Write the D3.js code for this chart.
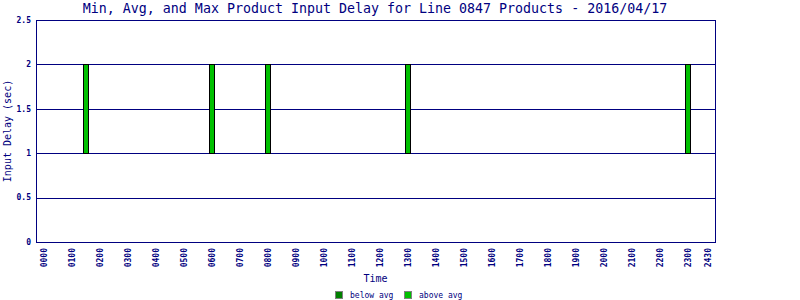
<!DOCTYPE html>
<meta charset="utf-8">
<script src="https://d3js.org/d3.v7.min.js"></script>
<style>
  body { margin: 0; background: #fff; }
  text { font-family: "DejaVu Sans Mono", monospace; fill: #000080; }
</style>
<svg id="chart" width="800" height="300"></svg>
<script>

    // data
    var barHours = [1.5, 6, 8, 13, 23];
    var barMin = [1, 1, 1, 1, 1];
    var barMax = [2, 2, 2, 2, 2];

    var yTicks = [0, 0.5, 1, 1.5, 2, 2.5];
    var xTickHours = [0, 1, 2, 3, 4, 5, 6, 7, 8, 9, 10, 11, 12, 13, 14, 15, 16, 17, 18, 19, 20, 21, 22, 23, 24.5];
    var xTickLabels = ["0000", "0100", "0200", "0300", "0400", "0500", "0600", "0700", "0800", "0900",
        "1000", "1100", "1200", "1300", "1400", "1500", "1600", "1700", "1800", "1900",
        "2000", "2100", "2200", "2300", "2430"];

    var legendLabels = ["below avg", "above avg"];
    var legendColors = ["#008000", "#00c000"];

    var navy = "#000080";

    // plot box (window.top is reserved, so use other names)
    var svg = d3.select("svg"),
        plotLeft = 36, plotRight = 715, plotTop = 20, plotBottom = 242;

    var x = d3.scaleLinear().domain([-0.28, 23.97]).range([plotLeft, plotRight]);
    var y = d3.scaleLinear().domain([0, 2.5]).range([plotBottom, plotTop]);

    // title
    svg.append("text")
        .attr("x", 375)
        .attr("y", 13)
        .attr("text-anchor", "middle")
        .style("font-size", "13.3px")
        .text("Min, Avg, and Max Product Input Delay for Line 0847 Products - 2016/04/17");

    // horizontal grid lines
    svg.append("g")
        .selectAll("line")
        .data(yTicks)
        .enter()
        .append("line")
        .attr("x1", plotLeft)
        .attr("x2", plotRight + 1)
        .attr("y1", function (d) { return Math.round(y(d)) + 0.5 })
        .attr("y2", function (d) { return Math.round(y(d)) + 0.5 })
        .style("stroke", navy)
        .style("stroke-width", 1);

    // frame sides
    svg.append("line")
        .attr("x1", plotLeft + 0.5).attr("x2", plotLeft + 0.5)
        .attr("y1", plotTop).attr("y2", plotBottom + 1)
        .style("stroke", navy);
    svg.append("line")
        .attr("x1", plotRight + 0.5).attr("x2", plotRight + 0.5)
        .attr("y1", plotTop).attr("y2", plotBottom + 1)
        .style("stroke", navy);

    // y tick labels
    svg.append("g")
        .selectAll("text")
        .data(yTicks)
        .enter()
        .append("text")
        .attr("x", 31)
        .attr("y", function (d) { return y(d) })
        .attr("dy", "0.35em")
        .attr("text-anchor", "end")
        .style("font-size", "8px")
        .style("font-weight", "bold")
        .text(function (d) { return d });

    // x tick labels (rotated)
    svg.append("g")
        .selectAll("text")
        .data(xTickHours)
        .enter()
        .append("text")
        .attr("transform", function (d) {
            var px = Math.min(x(d), plotRight - 7);
            return "translate(" + (px + 3) + ",248) rotate(-90)";
        })
        .attr("text-anchor", "end")
        .style("font-size", "8px")
        .style("font-weight", "bold")
        .text(function (d, i) { return xTickLabels[i] });

    // bars
    svg.append("g")
        .selectAll("rect")
        .data(barHours)
        .enter()
        .append("rect")
        .attr("x", function (d) { return Math.round(x(d)) - 2.5 })
        .attr("y", function (d, i) { return Math.round(y(barMax[i])) + 0.5 })
        .attr("width", 5)
        .attr("height", function (d, i) { return Math.round(y(barMin[i])) - Math.round(y(barMax[i])) })
        .style("fill", legendColors[1])
        .style("stroke", "#000")
        .style("stroke-width", 1);

    // axis titles
    svg.append("text")
        .attr("transform", "translate(11," + ((plotTop + plotBottom) / 2) + ") rotate(-90)")
        .attr("text-anchor", "middle")
        .style("font-size", "10px")
        .text("Input Delay (sec)");

    svg.append("text")
        .attr("x", (plotLeft + plotRight) / 2)
        .attr("y", 282)
        .attr("text-anchor", "middle")
        .style("font-size", "10px")
        .text("Time");

    // legend
    var legend = svg.append("g")
        .selectAll("g")
        .data(legendLabels)
        .enter()
        .append("g")
        .attr("transform", function (d, i) { return "translate(" + (335 + i * 69) + ",291)" });

    legend.append("rect")
        .attr("x", 0.5).attr("y", 0.5)
        .attr("width", 7).attr("height", 7)
        .style("fill", function (d, i) { return legendColors[i] })
        .style("stroke", "#808080");

    legend.append("text")
        .attr("x", 15)
        .attr("y", 7)
        .style("font-size", "8px")
        .text(function (d) { return d });

</script>
